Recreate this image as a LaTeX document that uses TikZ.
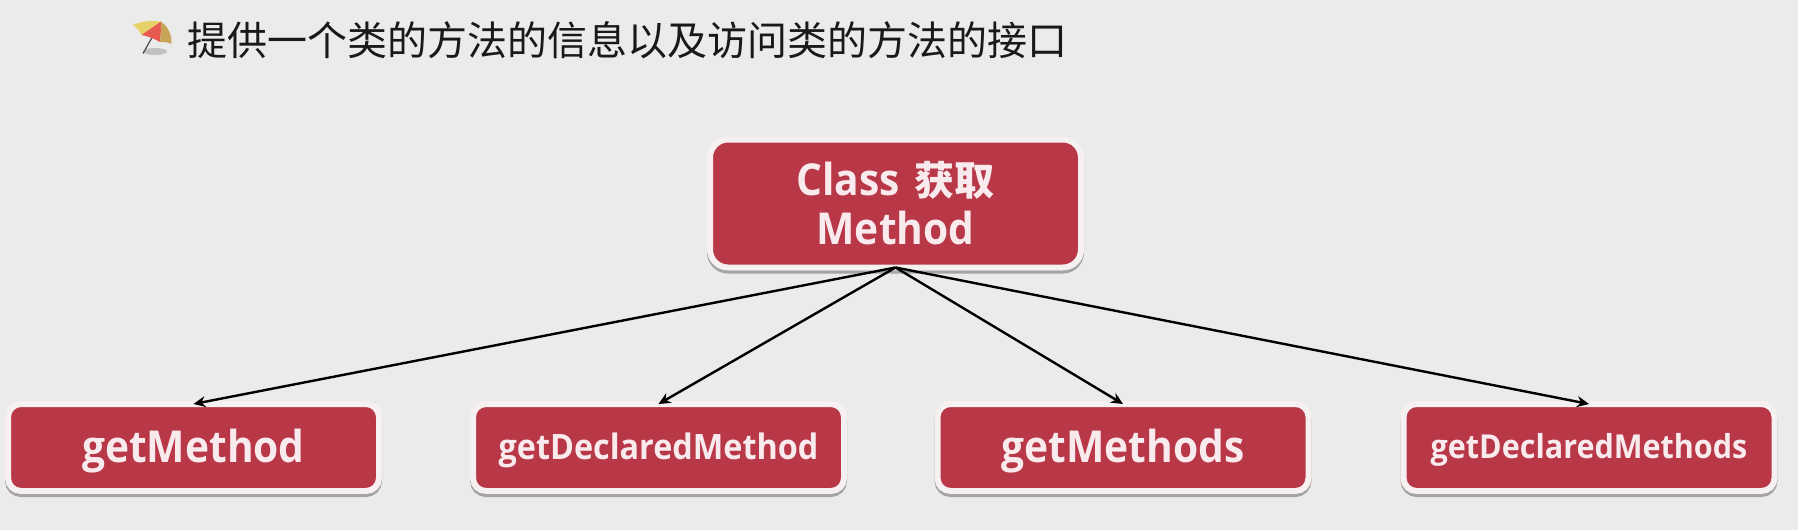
\documentclass[tikz,border=0pt]{standalone}
\usepackage{fontspec}
\setmainfont[FakeStretch=0.925]{Open Sans}
\newfontfamily\cjk{Noto Sans CJK SC}
\usetikzlibrary{shadows,arrows.meta}
\definecolor{bgc}{HTML}{EBEBEB}
\definecolor{boxred}{HTML}{B93848}
\definecolor{boxtxt}{HTML}{F9EAEE}
\definecolor{frame}{HTML}{F6F0F1}
\definecolor{umbY}{HTML}{E6D068}
\definecolor{umbR}{HTML}{E85A50}
\definecolor{umbT}{HTML}{C9A55A}
\newcommand{\lowtext}[2]{\raisebox{#1}[\height][\depth]{#2}}
\tikzset{
  x=1pt,y=-1pt,
  box/.style={draw=frame,line width=6pt,fill=boxred,
    text=boxtxt,align=center,inner sep=0pt,outer sep=0pt,
    text width=360pt,
    drop shadow={shadow xshift=0pt,shadow yshift=-3pt,opacity=.3,fill=black,draw=black,line width=6pt}},
  topbox/.style={box,rounded corners=18pt,minimum width=371pt,minimum height=128pt},
  lowbox/.style={box,rounded corners=13pt,minimum width=371pt,minimum height=87pt},
  link/.style={draw=black,line width=2.4pt,-{Stealth[length=12pt,width=11pt]}},
}
\begin{document}
\begin{tikzpicture}
\useasboundingbox (0,0) rectangle (1798,530);
\fill[bgc] (0,0) rectangle (1798,530);
% umbrella icon
\fill[black!35,opacity=.6] (155,51.5) ellipse [x radius=12, y radius=3.5];
\draw[black!70,line width=1.2pt] (160.7,22) -- (143,53.5);
\fill[umbY] (133,25) .. controls (142,21) and (152,20) .. (160.7,21.7) -- (141.5,35) .. controls (139,30) and (136,27) .. (133,25) -- cycle;
\fill[umbR] (141.5,35) -- (160.7,21.7) .. controls (161,28) and (161,35) .. (160,42) .. controls (153,38) and (147,36) .. (141.5,35) -- cycle;
\fill[umbT] (160.7,21.7) .. controls (168,26) and (172,35) .. (171.5,44) .. controls (168,42) and (164,42) .. (160,42) .. controls (161,35) and (161,28) .. (160.7,21.7) -- cycle;
% title
\node[anchor=west,inner sep=0pt,font=\cjk\fontsize{40}{44}\selectfont,text=black!90] (title) at (187,40) {提供一个类的方法的信息以及访问类的方法的接口};
% nodes
\node[topbox,font=\bfseries\fontsize{44}{49}\selectfont] (root) at (895.5,203.5) {Class {\cjk\bfseries\fontsize{40}{49}\selectfont 获取}\\Method};
\node[lowbox,font=\bfseries\fontsize{44}{50}\selectfont] (m1) at (193.5,447.5) {\lowtext{-4pt}{getMethod}};
\node[lowbox,font=\bfseries\fontsize{35}{40}\selectfont] (m2) at (658.5,447.5) {\lowtext{-3pt}{getDeclaredMethod}};
\node[lowbox,font=\bfseries\fontsize{44}{50}\selectfont] (m3) at (1123,447.5) {\lowtext{-4pt}{getMethods}};
\node[lowbox,font=\bfseries\fontsize{33}{40}\selectfont] (m4) at (1589,447.5) {\lowtext{-2pt}{getDeclaredMethods}};
% connectors
\draw[link] (root.south) -- (m1.north);
\draw[link] (root.south) -- (m2.north);
\draw[link] (root.south) -- (m3.north);
\draw[link] (root.south) -- (m4.north);
\end{tikzpicture}
\end{document}
